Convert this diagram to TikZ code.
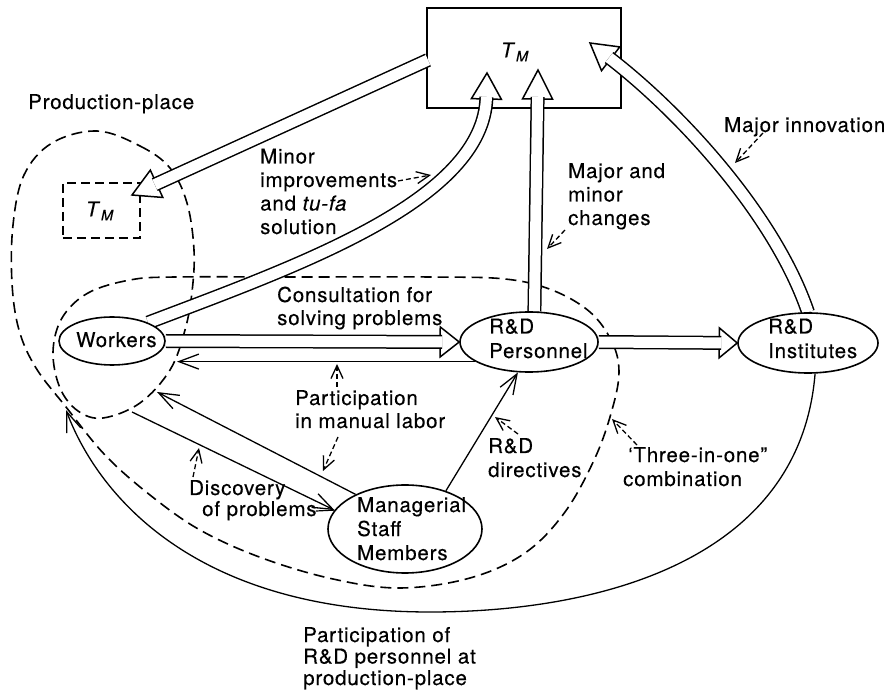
\documentclass[tikz,border=0pt]{standalone}
\usepackage{fontspec}
\usetikzlibrary{shapes.geometric, arrows.meta, calc}
\newfontfamily\herosfont[LetterSpace=4.0, FakeBold=0.3]{TeX Gyre Heros}
\newcommand\lf{\herosfont\fontsize{20.5pt}{23.5pt}\selectfont}
\newcommand\TM{\textit{T}\raisebox{-4pt}{\fontsize{14.5pt}{14.5pt}\selectfont\textit{M}}}
\pgfdeclarelayer{back}
\pgfdeclarelayer{mid}
\pgfsetlayers{back,mid,main}
% open triangular head of a wide arrow: tip, point behind the tip, head length
\newcommand\openhead[3]{%
  \coordinate (hb) at ($(#1)!#3!(#2)$);
  \draw[headstyle] (#1) -- ($(hb)!15pt!90:(#1)$) -- ($(hb)!15pt!-90:(#1)$) -- cycle;}

\begin{document}
\begin{tikzpicture}[x=1pt,y=-1pt,
  % multi-line labels are placed by the baseline of their last line
  lbl/.style={font=\lf, align=left, inner sep=0pt, anchor=base west},
  ellip/.style={draw, ellipse, line width=1.6pt, fill=white, inner sep=0pt},
  boxstyle/.style={draw, line width=1.6pt, inner sep=0pt, anchor=north west},
  zone/.style={dash pattern=on 11pt off 6pt, line width=1.6pt},
  hollow/.style={draw=black, double=white, double distance=11pt, line width=1.5pt},
  headstyle/.style={draw=black, fill=white, line width=1.5pt, line join=miter},
  thin/.style={line width=1.3pt, -{Straight Barb[length=20pt,width=15pt]}},
  pointer/.style={line width=1.3pt, dash pattern=on 5pt off 3pt,
    -{Straight Barb[length=13pt,width=12pt]}},
]
\useasboundingbox (0,0) rectangle (887,692);

% ---------- boxes and the dashed zones
\begin{pgfonlayer}{back}
  \node[boxstyle, minimum width=194pt, minimum height=100pt] (tm) at (426,7) {};
  \node[boxstyle, dash pattern=on 9pt off 5pt, minimum width=77pt, minimum height=55pt] (tms) at (62,182) {};
  \draw[zone] plot[smooth cycle, tension=0.6] coordinates {
    (97,131) (140,146) (170,168) (187,203) (194,250) (192,292) (185,330)
    (170,370) (140,403) (103,418) (78,411) (60,388) (53,352) (62,318)
    (88,293) (130,280) (175,277) (300,277) (430,277) (505,279) (552,290)
    (590,312) (612,342) (619,372) (612,410) (595,458) (565,512) (525,553)
    (470,578) (400,588) (333,579) (262,558) (200,530) (150,495) (105,455)
    (66,407) (36,368) (19,330) (12,283) (13,225) (24,175) (52,143)};
\end{pgfonlayer}

% ---------- actors
\node[ellip, minimum width=106pt, minimum height=48pt] (wk) at (112,341) {};
\node[ellip, minimum width=138pt, minimum height=60pt] (rdp) at (529,342) {};
\node[ellip, minimum width=140pt, minimum height=60pt] (inst) at (808,343) {};
\node[ellip, minimum width=154pt, minimum height=88pt] (mgr) at (405,529) {};

\node[lbl] (wkt) at (76,347) {Workers};
\node[lbl] (rdpt) at (489,358) {R\&D\\[1pt]Personnel};
\node[lbl] (instt) at (768,358) {R\&D\\[1pt]Institutes};
\node[lbl] (mgrt) at (357,560) {Managerial\\[0.5pt]Staff\\[0.5pt]Members};
\node[font=\lf, inner sep=0pt] (tmt) at (515,52) {\TM};
\node[font=\lf, inner sep=0pt] (tmst) at (100,211) {\TM};

% ---------- wide hollow arrows
\coordinate (tmL) at (428,60);
\coordinate (tip3) at (538,70);
\coordinate (tip4) at (487,73);
\coordinate (c4) at (484,200);
\coordinate (tip5) at (132,195);
\coordinate (tip6) at (590,43);
\coordinate (c6) at (680,112);
\begin{pgfonlayer}{mid}
  \openhead{rdp.west}{wk.east}{19pt}
  \draw[hollow] (wk.east) -- ($(rdp.west)!17pt!(wk.east)$);
  \openhead{inst.west}{rdp.east}{18pt}
  \draw[hollow] (rdp.east) -- ($(inst.west)!16pt!(rdp.east)$);
  \openhead{tip3}{rdp.80}{29pt}
  \draw[hollow] (rdp.80) -- ($(tip3)!27pt!(rdp.80)$);
  \openhead{tip4}{c4}{26pt}
  \draw[hollow] (wk.27) .. controls (300,265) and (c4) .. ($(tip4)!24pt!(c4)$);
  \openhead{tip5}{tmL}{27pt}
  \draw[hollow] (tmL) -- ($(tip5)!25pt!(tmL)$);
  \openhead{tip6}{c6}{26pt}
  \draw[hollow] (inst.north) .. controls (775,215) and (c6) .. ($(tip6)!24pt!(c6)$);
\end{pgfonlayer}

% ---------- thin arrows
\coordinate (wkin1) at (157,392);
\coordinate (wkin2) at (177,361);
\coordinate (wkout) at (132,412);
\coordinate (prodin) at (66,410);
\draw[thin] (mgr.145) -- (wkin1);
\draw[thin] (rdp.200) -- (rdp.200 -| wkin2);
\draw[thin] (wkout) -- (mgr.165);
\draw[thin] (mgr.43) -- (rdp.250);
\draw[thin] (inst.283) .. controls (800,560) and (600,612) .. (430,612)
  .. controls (200,612) and (100,500) .. (prodin);

% ---------- labels
\node[lbl] (prodt) at (28,109) {Production-place};
\node[lbl] (minort) at (260,234) {Minor\\improvements\\and \textit{tu-fa}\\solution};
\node[lbl] (majt) at (568,225) {Major and\\minor\\changes};
\node[lbl] (innovt) at (724,132) {Major innovation};
\node[lbl] (const) at (277,325) {Consultation for\\[-0.5pt]solving problems};
\node[lbl] (partt) at (295,428) {Participation\\[-0.5pt]in manual labor};
\node[lbl] (disct) at (189,516) {Discovery\\[-2.5pt]\hspace*{13pt}of problems};
\node[lbl] (dirt) at (488,477) {R\&D\\[0.5pt]directives};
\node[lbl] (threet) at (623,486) {\hspace*{5pt}‘Three-in-one”\\[0.5pt]combination};
\node[lbl] (rdpart) at (303,685) {Participation of\\[-2pt]R\&D personnel at\\[-2pt]production-place};

% ---------- dashed pointers from labels
\coordinate (p1a) at (398,181);  \coordinate (p1b) at (431,175);
\coordinate (p2a) at (565,230);  \coordinate (p2b) at (547,249);
\coordinate (p3a) at (763,133);  \coordinate (p3b) at (735,163);
\coordinate (p4a) at (337,387);  \coordinate (p4b) at (337,364);
\coordinate (p5a) at (338,437);  \coordinate (p5b) at (323,471);
\coordinate (p6a) at (193,477);  \coordinate (p6b) at (199,448);
\coordinate (p7a) at (518,434);  \coordinate (p7b) at (495,417);
\coordinate (p8a) at (637,445);  \coordinate (p8b) at (612,419);
\coordinate (p9a) at (316,511);
\draw[pointer] (p1a) -- (p1b);
\draw[pointer] (p2a) -- (p2b);
\draw[pointer] (p3a) -- (p3b);
\draw[pointer] (p4a) -- (p4b);
\draw[pointer] (p5a) -- (p5b);
\draw[pointer] (p6a) -- (p6b);
\draw[pointer] (p7a) -- (p7b);
\draw[pointer] (p8a) -- (p8b);
\draw[line width=1.2pt] (p9a) -- (mgr.165);
\end{tikzpicture}
\end{document}
